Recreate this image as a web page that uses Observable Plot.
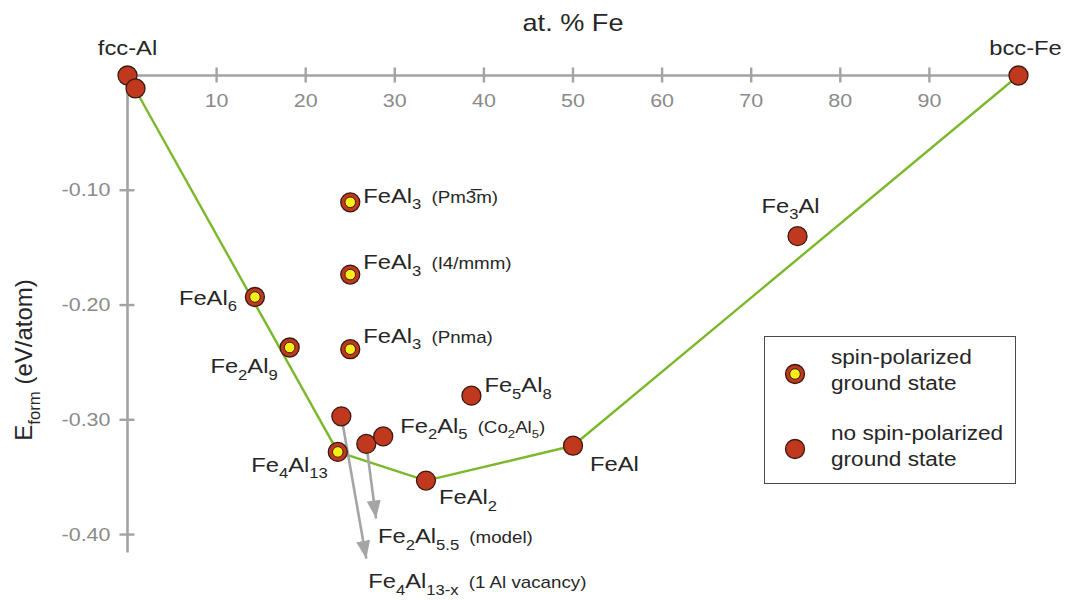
<!DOCTYPE html>
<html><head><meta charset="utf-8">
<script src="https://cdn.jsdelivr.net/npm/d3@7"></script>
<script src="https://cdn.jsdelivr.net/npm/@observablehq/plot@0.6"></script>
<style>
body{margin:0;background:#fff;}
#wrap{position:relative;width:1068px;height:600px;font-family:"Liberation Sans",Arial,sans-serif;color:#262626;}
#legend{position:absolute;left:764px;top:336px;width:252px;height:148px;border:1.6px solid #4a4a4a;box-sizing:border-box;background:#fff;}
.lg-sym{position:absolute;left:18px;width:24px;height:24px;}
.lg-txt{position:absolute;left:66px;font-size:20px;line-height:25.5px;white-space:nowrap;transform:scaleX(1.13);transform-origin:left center;}
</style></head><body><div id="wrap"></div><script>
// ---- data ----
const names   = ["fcc-Al","Al-rich","FeAl6","Fe2Al9","FeAl3 (Pm-3m)","FeAl3 (I4/mmm)","FeAl3 (Pnma)","Fe4Al13","Fe4Al13-x","Fe2Al5.5","Fe2Al5","FeAl2","Fe5Al8","FeAl","Fe3Al","bcc-Fe"];
const atPctFe = [0, 0.9, 14.3, 18.2, 25, 25, 25, 23.6, 24.0, 26.8, 28.7, 33.5, 38.6, 50, 75.2, 100];
const eForm   = [0, -0.0113, -0.193, -0.237, -0.1105, -0.1735, -0.2385, -0.328, -0.297, -0.321, -0.3145, -0.353, -0.279, -0.3226, -0.140, 0];
const spinPol = [false,false,true,true,true,true,true,true,false,false,false,false,false,false,false,false];
const labels  = ["fcc-Al","","FeAl_{6}","Fe_{2}Al_{9}","FeAl_{3}|(Pm3\u0305m)","FeAl_{3}|(I4/mmm)","FeAl_{3}|(Pnma)","Fe_{4}Al_{13}","","","Fe_{2}Al_{5}|(Co_{2}Al_{5})","FeAl_{2}","Fe_{5}Al_{8}","FeAl","Fe_{3}Al","bcc-Fe"];
const hullNames = ["fcc-Al","Fe4Al13","FeAl2","FeAl","bcc-Fe"];
const arrowFrom  = ["Fe4Al13-x","Fe2Al5.5"];
const arrowToFe  = [26.8, 27.9];
const arrowToE   = [-0.421, -0.386];
const arrowLabels = ["Fe_{4}Al_{13-x}|(1 Al vacancy)","Fe_{2}Al_{5.5}|(model)"];
const xTicks = [10,20,30,40,50,60,70,80,90];
const yTicks = [-0.10,-0.20,-0.30,-0.40];
const xTitle = "at. % Fe";
const yTitle = "E_{form} (eV/atom)";
const legendItems = [
  {lines:["spin-polarized","ground state"], spin:true},
  {lines:["no spin-polarized","ground state"], spin:false}
];

// ---- layout / styles (not data) ----
const RED = "#c0391f", DARK = "#3a1a10", YELLOW = "#f6ee17", GREEN = "#7bb82c", GRAY = "#a5a5a5", AXIS = "#a3a3a3", TICKTXT = "#8a8a8a", TXT = "#262626";
const labelLayout = {
  "fcc-Al": ["middle", 0, -27],
  "FeAl6": ["end", -18, 1],
  "Fe2Al9": ["end", -12, 19],
  "FeAl3 (Pm-3m)": ["start", 13, -6],
  "FeAl3 (I4/mmm)": ["start", 13, -12],
  "FeAl3 (Pnma)": ["start", 13, -13],
  "Fe4Al13": ["end", -10, 13],
  "Fe2Al5": ["start", 17, -10],
  "FeAl2": ["start", 13, 17],
  "Fe5Al8": ["start", 13, -10],
  "FeAl": ["start", 17, 19],
  "Fe3Al": ["middle", -7, -30],
  "bcc-Fe": ["middle", 7, -27]
};
const arrowLabelLayout = [[2, 23], [2, 18]];
const yTitleCenter = [27, 360];

const pts = names.map((n, i) => ({name: n, x: atPctFe[i], y: eForm[i], spin: spinPol[i], label: labels[i]}));
const byName = new Map(pts.map(d => [d.name, d]));
const hull = hullNames.map(n => byName.get(n));
const arrows = arrowFrom.map((n, i) => ({x1: byName.get(n).x, y1: byName.get(n).y, x2: arrowToFe[i], y2: arrowToE[i], label: arrowLabels[i]}));

function arrowHead(color, context) {
  const ns = "http://www.w3.org/2000/svg";
  const m = document.createElementNS(ns, "marker");
  m.setAttribute("viewBox", "-18 -7 18 14");
  m.setAttribute("markerWidth", "18");
  m.setAttribute("markerHeight", "14");
  m.setAttribute("markerUnits", "userSpaceOnUse");
  m.setAttribute("orient", "auto");
  m.setAttribute("refX", "0"); m.setAttribute("refY", "0");
  m.setAttribute("fill", GRAY); m.setAttribute("stroke", "none");
  const p = document.createElementNS(ns, "path");
  p.setAttribute("d", "M-18,-7L0,0L-18,7Z");
  m.appendChild(p);
  return m;
}

const labelMarks = pts.filter(d => d.label).map(d => {
  const [anchor, dx, dy] = labelLayout[d.name];
  return Plot.text([d], {x: "x", y: "y", text: "label", textAnchor: anchor, dx, dy, fontSize: 21, fill: TXT});
});
const arrowLabelMarks = arrows.map((a, i) => Plot.text([a], {x: "x2", y: "y2", text: "label", textAnchor: "start", dx: arrowLabelLayout[i][0], dy: arrowLabelLayout[i][1], fontSize: 21, fill: TXT}));

const chart = Plot.plot({
  width: 1068, height: 600,
  marginLeft: 127, marginRight: 50, marginTop: 75, marginBottom: 43,
  x: {domain: [0, 100], axis: null},
  y: {domain: [-0.42, 0], axis: null},
  style: {fontFamily: "'Liberation Sans', Arial, sans-serif", background: "#fff", color: TXT},
  marks: [
    Plot.ruleY([0], {y: d => d, x1: 0, x2: 100, stroke: AXIS, strokeWidth: 2.6}),
    Plot.ruleX([0], {x: d => d, y1: 0, y2: -0.416, stroke: AXIS, strokeWidth: 2.6}),
    Plot.ruleX(xTicks, {x: d => d, y1: 0, y2: 0, insetTop: -7.5, insetBottom: -7.5, stroke: AXIS, strokeWidth: 2.4}),
    Plot.ruleY(yTicks, {y: d => d, x1: 0, x2: 0, insetLeft: -7.5, insetRight: -7.5, stroke: AXIS, strokeWidth: 2.4}),
    Plot.text(xTicks, {x: d => d, y: 0, dy: 25, text: d => String(d), fontSize: 19, fill: TICKTXT}),
    Plot.text(yTicks, {x: 0, y: d => d, dx: -17, textAnchor: "end", text: d => d.toFixed(2), fontSize: 19, fill: TICKTXT}),
    Plot.text([xTitle], {frameAnchor: "top", lineAnchor: "middle", textAnchor: "middle", dy: -52, fontSize: 24, fill: TXT}),
    Plot.text([yTitle], {frameAnchor: "left", rotate: -90, textAnchor: "middle", lineAnchor: "middle", fontSize: 24, fill: TXT}),
    Plot.line(hull, {x: "x", y: "y", stroke: GREEN, strokeWidth: 2.4}),
    Plot.link(arrows, {x1: "x1", y1: "y1", x2: "x2", y2: "y2", stroke: GRAY, strokeWidth: 2.6, markerEnd: arrowHead}),
    Plot.dot(pts, {x: "x", y: "y", r: 9.5, fill: RED, stroke: DARK, strokeWidth: 1.3}),
    Plot.dot(pts.filter(d => d.spin), {x: "x", y: "y", r: 5.3, fill: YELLOW, stroke: DARK, strokeWidth: 1}),
    ...labelMarks,
    ...arrowLabelMarks
  ]
});

const wrap = document.getElementById("wrap");
wrap.appendChild(chart);

// rich text: subscripts "_{..}" and smaller annotation after "|"
const SVGNS = "http://www.w3.org/2000/svg";
function parseRuns(str) {
  const out = []; const re = /_\{([^}]*)\}/g; let last = 0, m;
  while ((m = re.exec(str))) { if (m.index > last) out.push([str.slice(last, m.index), false]); out.push([m[1], true]); last = re.lastIndex; }
  if (last < str.length) out.push([str.slice(last), false]);
  return out;
}
function richify(t) {
  const s = t.textContent;
  if (!s.includes("_{") && !s.includes("|")) return;
  const fs = parseFloat(getComputedStyle(t).fontSize) || 21;
  const [main, small] = s.split("|");
  t.textContent = "";
  const state = {down: 0};
  addRuns(t, main, fs, 0, state);
  if (small !== undefined) addRuns(t, small, fs * 0.79, 9, state);
}
function addRuns(parent, str, size, gap, state) {
  let first = true;
  for (const [txt, sub] of parseRuns(str)) {
    const ts = document.createElementNS(SVGNS, "tspan");
    ts.textContent = txt;
    ts.setAttribute("font-size", sub ? size * 0.7 : size);
    const target = sub ? size * 0.3 : 0;
    const dyv = target - state.down; state.down = target;
    if (dyv) ts.setAttribute("dy", dyv.toFixed(2));
    if (first && gap) ts.setAttribute("dx", gap);
    first = false;
    parent.appendChild(ts);
  }
}
const svgBox = chart.getBoundingClientRect();
chart.querySelectorAll("text").forEach(t => {
  richify(t);
  const tr = t.getAttribute("transform") || "";
  if (!/rotate/.test(tr)) {
    t.setAttribute("transform", (tr + " scale(1.13,1)").trim());
  } else {
    // place the rotated y-axis title so that its centre sits at yTitleCenter
    const r = t.getBoundingClientRect();
    const cx = r.left - svgBox.left + r.width / 2, cy = r.top - svgBox.top + r.height / 2;
    t.setAttribute("transform", `translate(${(yTitleCenter[0] - cx).toFixed(1)},${(yTitleCenter[1] - cy).toFixed(1)}) ${tr}`);
  }
});

// legend (HTML overlay)
const lg = document.createElement("div");
lg.id = "legend";
const tops = [[25, 8], [100, 84]];
legendItems.forEach((it, i) => {
  const sym = document.createElement("div");
  sym.className = "lg-sym";
  sym.style.top = tops[i][0] + "px";
  sym.innerHTML = `<svg width="24" height="24"><circle cx="12" cy="12" r="9.5" fill="${RED}" stroke="${DARK}" stroke-width="1.3"/>` +
    (it.spin ? `<circle cx="12" cy="12" r="5.3" fill="${YELLOW}" stroke="${DARK}" stroke-width="1"/>` : "") + `</svg>`;
  const tx = document.createElement("div");
  tx.className = "lg-txt";
  tx.style.top = tops[i][1] + "px";
  tx.innerHTML = it.lines.join("<br>");
  lg.appendChild(sym); lg.appendChild(tx);
});
wrap.appendChild(lg);
</script></body></html>
